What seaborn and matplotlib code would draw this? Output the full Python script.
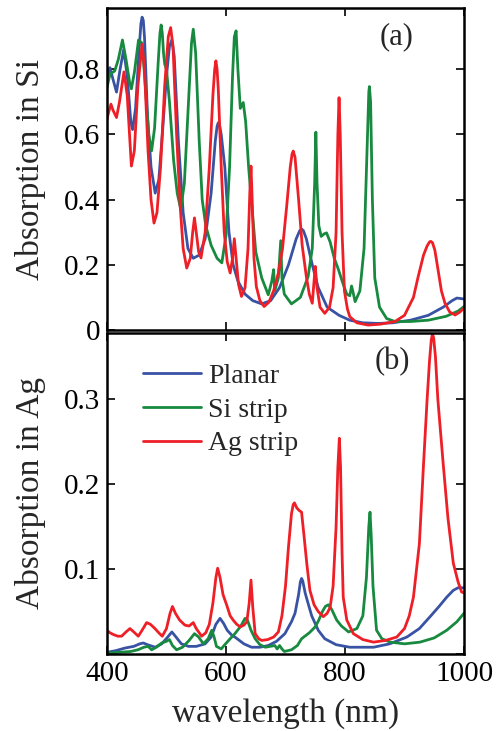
import numpy as np
import pandas as pd
import seaborn as sns
import matplotlib
matplotlib.use('Agg')
import matplotlib.pyplot as plt

# Dados: absorção no Si (painel a)
si_planar_wl = [400, 405, 410, 416, 422, 428, 434, 440, 443, 448, 454, 457, 459, 461, 463, 468, 474,
                481, 487, 493, 500, 505, 509, 513, 520, 528, 536, 545, 555, 565, 575, 582, 585, 587,
                589, 592, 598, 605, 612, 620, 632, 645, 660, 675, 690, 705, 718, 724, 727, 730, 735,
                745, 755, 770, 790, 808, 830, 856, 880, 910, 940, 965, 980, 988, 1000]
si_planar = [0.77, 0.805, 0.77, 0.73, 0.80, 0.86, 0.78, 0.64, 0.615, 0.68, 0.86, 0.94, 0.96, 0.95,
             0.90, 0.66, 0.50, 0.42, 0.46, 0.60, 0.78, 0.87, 0.89, 0.84, 0.58, 0.36, 0.25, 0.22,
             0.23, 0.28, 0.42, 0.58, 0.625, 0.636, 0.63, 0.60, 0.50, 0.30, 0.20, 0.15, 0.11, 0.09,
             0.08, 0.09, 0.13, 0.20, 0.28, 0.305, 0.31, 0.305, 0.28, 0.20, 0.13, 0.07, 0.045, 0.03,
             0.022, 0.02, 0.022, 0.03, 0.045, 0.07, 0.09, 0.098, 0.095]

si_sistrip_wl = [400, 405, 413, 419, 426, 432, 438, 441, 446, 453, 459, 464, 470, 475, 480, 486, 489,
                 491, 493, 495, 497, 500, 505, 512, 518, 524, 530, 537, 542, 545, 549, 555, 560, 566,
                 575, 585, 593, 600, 606, 611, 614, 617, 620, 624, 629, 633, 638, 643, 650, 660, 671,
                 677, 680, 682, 688, 692, 694, 698, 710, 725, 738, 745, 749, 751, 753, 756, 760, 765,
                 769, 775, 782, 789, 797, 803, 808, 811, 813, 817, 825, 832, 837, 840, 841, 843, 846,
                 850, 858, 870, 884, 910, 940, 970, 990, 1000]
si_sistrip = [0.744, 0.785, 0.795, 0.83, 0.89, 0.83, 0.76, 0.74, 0.79, 0.89, 0.88, 0.76, 0.60, 0.55,
              0.62, 0.82, 0.91, 0.936, 0.91, 0.85, 0.816, 0.80, 0.70, 0.52, 0.42, 0.37, 0.45, 0.70,
              0.88, 0.923, 0.85, 0.58, 0.40, 0.32, 0.26, 0.22, 0.206, 0.29, 0.50, 0.78, 0.90, 0.918,
              0.80, 0.68, 0.698, 0.64, 0.50, 0.39, 0.24, 0.16, 0.108, 0.15, 0.185, 0.12, 0.16, 0.274,
              0.16, 0.11, 0.08, 0.10, 0.164, 0.25, 0.45, 0.607, 0.45, 0.32, 0.287, 0.295, 0.298,
              0.27, 0.22, 0.185, 0.14, 0.11, 0.105, 0.135, 0.12, 0.087, 0.12, 0.25, 0.55, 0.73,
              0.747, 0.70, 0.40, 0.16, 0.07, 0.035, 0.026, 0.026, 0.03, 0.042, 0.058, 0.072]

si_agstrip_wl = [400, 403, 406.7, 410, 416, 421, 428.5, 434, 441, 446, 452, 459, 463, 469, 474, 479,
                 484, 490, 497, 503, 507, 511, 517, 523, 528, 534, 540, 544, 547, 550, 554, 558, 565,
                 572, 578, 581, 583, 585, 587, 592, 597, 602, 607, 611, 614, 617, 621, 626, 632, 637,
                 640, 642, 644, 647, 651, 657, 664, 672, 680, 688, 695, 702, 708, 711, 713, 716, 722,
                 728, 735, 740, 745, 748, 750, 753, 758, 766, 774, 780, 785, 788, 790, 792, 795, 799,
                 804, 808, 820, 839, 860, 884, 900, 915, 923, 932, 938, 942, 944, 947, 951, 955, 962,
                 968, 976, 985, 993, 1000]
si_agstrip = [0.647, 0.67, 0.693, 0.675, 0.652, 0.70, 0.792, 0.72, 0.503, 0.55, 0.75, 0.877, 0.80,
              0.55, 0.40, 0.328, 0.36, 0.50, 0.75, 0.90, 0.928, 0.87, 0.60, 0.38, 0.25, 0.19, 0.22,
              0.30, 0.344, 0.30, 0.24, 0.221, 0.30, 0.50, 0.72, 0.80, 0.826, 0.80, 0.74, 0.50, 0.30,
              0.21, 0.175, 0.22, 0.28, 0.22, 0.14, 0.103, 0.13, 0.25, 0.42, 0.503, 0.40, 0.22, 0.133,
              0.09, 0.072, 0.085, 0.12, 0.175, 0.25, 0.38, 0.50, 0.54, 0.549, 0.53, 0.40, 0.26, 0.164,
              0.11, 0.082, 0.15, 0.195, 0.13, 0.07, 0.051, 0.07, 0.13, 0.30, 0.60, 0.713, 0.60, 0.30,
              0.12, 0.065, 0.041, 0.022, 0.015, 0.018, 0.026, 0.045, 0.10, 0.164, 0.23, 0.258, 0.27,
              0.272, 0.268, 0.245, 0.20, 0.12, 0.082, 0.055, 0.046, 0.055, 0.067]

# Dados: absorção no Ag (painel b)
ag_planar_wl = [400, 415, 430, 445, 455, 461, 468, 481, 492, 502, 509, 516, 525, 537, 550, 565, 575,
                583, 590, 596, 602, 610, 615, 630, 643, 657, 671, 685, 699, 710, 716, 722, 725, 727,
                729, 733, 737, 744, 755, 766, 785, 808, 830, 848, 875, 904, 925, 943, 958, 971, 982,
                990, 1000]
ag_planar = [0.002, 0.004, 0.007, 0.009, 0.012, 0.013, 0.011, 0.008, 0.012, 0.02, 0.026, 0.02, 0.012,
             0.009, 0.009, 0.012, 0.02, 0.035, 0.042, 0.036, 0.028, 0.022, 0.02, 0.012, 0.008, 0.008,
             0.01, 0.015, 0.024, 0.038, 0.048, 0.07, 0.085, 0.089, 0.086, 0.072, 0.062, 0.045,
             0.028, 0.018, 0.011, 0.008, 0.008, 0.008, 0.012, 0.02, 0.03, 0.044, 0.056, 0.067,
             0.075, 0.078, 0.078]

ag_sistrip_wl = [400, 420, 440, 452, 462, 469, 475, 483, 492, 500, 505, 510, 517, 527, 538, 547, 554,
                 562, 570, 576, 580, 584, 592, 598, 607, 615, 625, 632, 636, 642, 649, 657, 666, 674,
                 682, 686, 690, 694, 698, 710, 720, 727, 740, 750, 756, 762, 767, 772, 778, 786, 794,
                 806, 820, 830, 836, 840, 842, 844, 847, 853, 862, 876, 900, 926, 950, 971, 988, 1000]
ag_sistrip = [0.001, 0.002, 0.003, 0.005, 0.008, 0.009, 0.005, 0.008, 0.013, 0.015, 0.017, 0.01,
              0.005, 0.008, 0.016, 0.024, 0.02, 0.012, 0.018, 0.028, 0.02, 0.009, 0.006, 0.011,
              0.018, 0.024, 0.033, 0.042, 0.04, 0.028, 0.018, 0.011, 0.008, 0.009, 0.01, 0.006,
              0.01, 0.006, 0.003, 0.005, 0.01, 0.018, 0.025, 0.032, 0.04, 0.05, 0.056, 0.058, 0.052,
              0.04, 0.033, 0.026, 0.03, 0.045, 0.09, 0.15, 0.167, 0.14, 0.08, 0.028, 0.018, 0.014,
              0.012, 0.014, 0.019, 0.028, 0.038, 0.048]

ag_agstrip_wl = [400, 405, 410.6, 418, 424.6, 432, 438.6, 445, 452.6, 459, 466.6, 473, 480.6, 487,
                 492.9, 500, 506, 510, 515, 522, 531, 538, 545, 550, 559, 566, 572, 578, 583, 586, 590,
                 595, 601, 607, 612, 618, 624, 630, 635, 639, 642, 645, 649, 655, 660, 670, 680, 688,
                 694, 700, 705, 710, 713, 715, 719, 723, 727, 731, 736, 741, 748, 755, 763.6, 770, 775,
                 780, 785, 788, 790.5, 792.5, 795, 797, 803, 814, 830, 848, 868, 887, 900, 908, 915,
                 925, 932, 938, 942, 945, 947, 949, 952, 956, 965, 973, 982, 990, 996, 1000]
ag_agstrip = [0.028, 0.025, 0.023, 0.021, 0.021, 0.026, 0.030, 0.026, 0.021, 0.028, 0.037, 0.035,
              0.030, 0.025, 0.021, 0.03, 0.048, 0.056, 0.048, 0.04, 0.034, 0.033, 0.037, 0.03, 0.021,
              0.025, 0.035, 0.06, 0.09, 0.101, 0.09, 0.07, 0.058, 0.045, 0.04, 0.035, 0.032, 0.034,
              0.038, 0.06, 0.087, 0.055, 0.024, 0.018, 0.016, 0.017, 0.02, 0.026, 0.045, 0.08, 0.126,
              0.165, 0.176, 0.178, 0.172, 0.169, 0.167, 0.14, 0.105, 0.075, 0.058, 0.05, 0.044, 0.048,
              0.055, 0.08, 0.15, 0.22, 0.254, 0.22, 0.12, 0.067, 0.04, 0.024, 0.017, 0.014, 0.016,
              0.02, 0.03, 0.045, 0.067, 0.13, 0.224, 0.30, 0.345, 0.37, 0.377, 0.372, 0.35, 0.30,
              0.224, 0.16, 0.107, 0.085, 0.073, 0.072]

nomes = ['Planar', 'Si strip', 'Ag strip']
cores = ['#3953a4', '#178a40', '#ee1f26']


def monta_tabela(series):
    # junta as três curvas de um painel num único DataFrame
    partes = []
    for nome, (wl, val) in zip(nomes, series):
        partes.append(pd.DataFrame({'wl': wl, 'val': val, 'amostra': nome}))
    return pd.concat(partes, ignore_index=True)


df_si = monta_tabela([(si_planar_wl, si_planar), (si_sistrip_wl, si_sistrip), (si_agstrip_wl, si_agstrip)])
df_ag = monta_tabela([(ag_planar_wl, ag_planar), (ag_sistrip_wl, ag_sistrip), (ag_agstrip_wl, ag_agstrip)])

sns.set_style('ticks')
plt.rcParams['font.family'] = ['Liberation Serif', 'DejaVu Serif']

fig = plt.figure(figsize=(5.03, 7.31), dpi=100)
ax1 = fig.add_axes([0.2127, 0.5486, 0.7098, 0.4404])
ax2 = fig.add_axes([0.2127, 0.1053, 0.7098, 0.4392])

paleta = dict(zip(nomes, cores))

# Painel (a): absorção no Si
sns.lineplot(data=df_si, x='wl', y='val', hue='amostra', palette=paleta, estimator=None,
             linewidth=2.0, legend=False, ax=ax1)
# Painel (b): absorção no Ag
sns.lineplot(data=df_ag, x='wl', y='val', hue='amostra', palette=paleta, estimator=None,
             linewidth=2.0, legend='full', ax=ax2)

for ax in (ax1, ax2):
    ax.set_xlim(400, 1000)
    ax.set_xticks([400, 600, 800, 1000])
    ax.tick_params(direction='in', length=6, width=1.2, top=True, right=True,
                   labelsize=21, pad=5, colors='black')
    for s in ax.spines.values():
        s.set_linewidth(1.8)
        s.set_color('black')
    for linha in ax.get_lines():
        linha.set_solid_joinstyle('round')

ax1.set_ylim(0, 0.988)
ax1.set_yticks([0, 0.2, 0.4, 0.6, 0.8])
ax1.set_yticklabels(['0', '0.2', '0.4', '0.6', '0.8'])
ax1.tick_params(labelbottom=False)
ax1.set_xlabel('')
ax1.set_ylabel('Absorption in Si', fontsize=24)
ax1.yaxis.set_label_coords(-0.17, 0.5)
ax1.text(0.81, 0.955, '(a)', transform=ax1.transAxes, fontsize=22, ha='center', va='top')

ax2.set_ylim(0, 0.378)
ax2.set_yticks([0, 0.1, 0.2, 0.3])
ax2.set_yticklabels(['', '0.1', '0.2', '0.3'])
ax2.set_xlabel('wavelength (nm)', fontsize=24, labelpad=8)
ax2.set_ylabel('Absorption in Ag', fontsize=24)
ax2.yaxis.set_label_coords(-0.17, 0.5)
ax2.text(0.80, 0.955, '(b)', transform=ax2.transAxes, fontsize=22, ha='center', va='top')

# Legenda sem moldura dentro do painel (b)
leg = ax2.legend(loc='upper left', bbox_to_anchor=(0.1, 0.905), frameon=False, fontsize=20,
                 handlelength=2.1, handletextpad=0.25, labelspacing=0.3, borderpad=0,
                 borderaxespad=0)
for linha in leg.get_lines():
    linha.set_linewidth(2.0)

fig.savefig('out.png', dpi=100)
